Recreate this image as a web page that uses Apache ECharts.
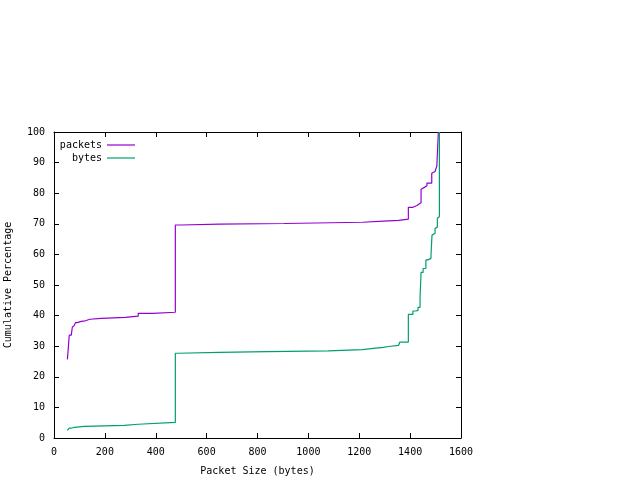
<!DOCTYPE html>
<html>
<head>
<meta charset="utf-8">
<script src="https://cdn.jsdelivr.net/npm/echarts@6/dist/echarts.min.js"></script>
<style>
html,body{margin:0;padding:0;background:#fff;}
#main{width:640px;height:480px;}
</style>
</head>
<body>
<div id="main"></div>
<script>
// Packet size (bytes) vs cumulative percentage, step points
var packetsData = [
  [52.7,25.7],[60,33.6],[68,34.2],[72,36.2],[76,36.8],[80,37.2],[84,37.7],[92,38.1],
  [107,38.3],[123,38.8],[141,39.1],[186,39.4],[280,39.8],[331,40.7],[388,41.1],
  [477,69.6],[499,69.9],[650,70.1],[905,70.5],[1213,70.9],[1295,71.1],[1355,71.5],
  [1393,75.4],[1411,76.0],[1427,76.5],[1435,76.9],[1443,81.3],[1448,81.9],[1456,82.4],
  [1466,83.3],[1485,86.5],[1492,87.1],[1498,87.4],[1505,88.9],[1511,100]
];
var bytesData = [
  [52.7,2.5],[60,3.2],[68,3.5],[80,3.8],[119,4.1],[276,4.5],[331,5.1],
  [477,27.7],[489,28.0],[650,28.2],[839,28.5],[1078,28.9],[1213,29.3],[1255,29.6],
  [1295,29.9],[1315,30.3],[1355,30.6],[1359,31.3],[1393,40.4],[1411,41.5],[1423,41.7],
  [1431,42.7],[1439,46.0],[1443,54.1],[1451,55.4],[1462,58.2],[1470,58.7],[1482,59.8],
  [1486,66.3],[1490,66.9],[1498,68.5],[1503,68.9],[1507,71.8],[1511,72.3],[1515,100]
];
var seriesNames = ['packets','bytes'];
var xTicks = {min:0, max:1600, interval:200};
var yTicks = {min:0, max:100, interval:10};

// expand into a staircase: hold previous value until the next x, then jump
function toSteps(pts){
  var out = [pts[0]];
  for (var i = 1; i < pts.length; i++){
    out.push([pts[i][0], pts[i-1][1]]);
    out.push(pts[i]);
  }
  return out;
}

var font = 'DejaVu Sans Mono';
var chart = echarts.init(document.getElementById('main'), null, {renderer:'canvas'});
function axisBase(extra){
  var a = {
    axisLine:{show:true,onZero:false,lineStyle:{color:'#000',width:1}},
    axisTick:{show:true,inside:true,length:5,lineStyle:{color:'#000',width:1}},
    splitLine:{show:false},
    axisLabel:{color:'#000',fontFamily:font,fontSize:10,margin:9,formatter:function(v){return String(v);}}
  };
  for(var k in extra) a[k]=extra[k];
  return a;
}
chart.setOption({
  animation:false,
  backgroundColor:'#fff',
  grid:{left:54,right:179,top:132,bottom:42,show:false,containLabel:false,outerBoundsMode:'none'},
  legend:[
    {data:[seriesNames[0]],right:505,top:140,align:'right',orient:'vertical',icon:'rect',itemWidth:28,itemHeight:1.2,
     textStyle:{fontFamily:font,fontSize:10,color:'#000'},selectedMode:false,padding:0},
    {data:[seriesNames[1]],right:505,top:153,align:'right',orient:'vertical',icon:'rect',itemWidth:28,itemHeight:1.2,
     textStyle:{fontFamily:font,fontSize:10,color:'#000'},selectedMode:false,padding:0}
  ],
  xAxis:[
    axisBase({type:'value',position:'bottom',min:xTicks.min,max:xTicks.max,interval:xTicks.interval,
      name:'Packet Size (bytes)',nameLocation:'middle',nameGap:28,
      nameTextStyle:{fontFamily:font,fontSize:10,color:'#000'}}),
    axisBase({type:'value',position:'top',min:xTicks.min,max:xTicks.max,interval:xTicks.interval,
      axisLabel:{show:false}})
  ],
  yAxis:[
    axisBase({type:'value',position:'left',min:yTicks.min,max:yTicks.max,interval:yTicks.interval,
      name:'Cumulative Percentage',nameLocation:'middle',nameGap:41,
      nameTextStyle:{fontFamily:font,fontSize:10,color:'#000'}}),
    axisBase({type:'value',position:'right',min:yTicks.min,max:yTicks.max,interval:yTicks.interval,
      axisLabel:{show:false}})
  ],
  series:[
    {name:seriesNames[0],type:'line',data:toSteps(packetsData),showSymbol:false,symbol:'none',
     color:'#9400d3',lineStyle:{color:'#9400d3',width:1.2},xAxisIndex:0,yAxisIndex:0},
    {name:seriesNames[1],type:'line',data:toSteps(bytesData),showSymbol:false,symbol:'none',
     color:'#009e73',lineStyle:{color:'#009e73',width:1.2},xAxisIndex:0,yAxisIndex:0}
  ]
});
</script>
</body>
</html>
